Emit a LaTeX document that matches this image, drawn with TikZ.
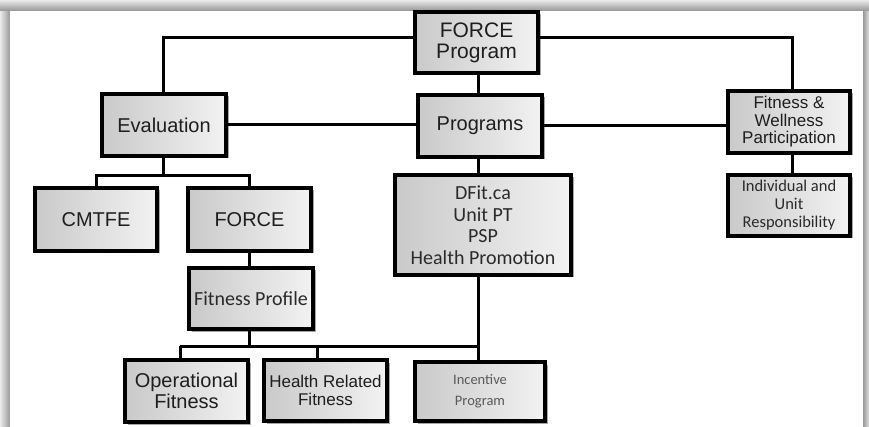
\documentclass[tikz,border=0pt]{standalone}
\usepackage{fontspec}
\setmainfont{Liberation Sans}
\newfontfamily\carl{Carlito}
\usetikzlibrary{shadows}
\definecolor{txt}{HTML}{1E1E1E}
\definecolor{ctxt}{HTML}{2A2A2A}
\tikzset{
  box/.style={draw=black, line width=3.2pt, left color=black!21, right color=black!5,
    inner sep=0pt, align=center, text=txt,
    drop shadow={shadow xshift=2.5pt, shadow yshift=-2.5pt, opacity=0.35, fill=black}},
  link/.style={draw=black, line width=3pt},
  arialA/.style={font=\fontsize{21}{21}\selectfont},
  arialB/.style={font=\fontsize{20}{21}\selectfont},
  arialC/.style={font=\fontsize{17}{17.5}\selectfont},
  calA/.style={font=\carl\fontsize{20}{21.5}\selectfont, text=ctxt},
  calB/.style={font=\carl\fontsize{16.5}{18}\selectfont, text=ctxt},
  calC/.style={font=\carl\fontsize{14.5}{21}\selectfont, text=black!65},
}
\begin{document}
\begin{tikzpicture}[x=1pt,y=-1pt]
\useasboundingbox (0,0) rectangle (869,427);
% frame
\fill[black!12] (0,0) rectangle (869,427);
\shade[left color=black!8, right color=black!40] (0,0) rectangle (10,427);
\shade[left color=black!40, right color=black!12] (863,0) rectangle (869,427);
\shade[top color=black!8, bottom color=black!42] (0,0) rectangle (869,11);
\fill[white] (10,11) rectangle (863,427);

% nodes
\node[box, arialA, minimum width=123pt, minimum height=61pt] (force) at (476.5,42.5) {FORCE\\Program};
\node[box, arialB, minimum width=124pt, minimum height=62pt] (eval) at (164,125) {Evaluation};
\node[box, arialB, minimum width=124pt, minimum height=62pt] (progs) at (480,126) {Programs};
\node[box, arialC, minimum width=122pt, minimum height=62pt] (fw) at (789,122) {Fitness \&\\Wellness\\Participation};
\node[box, calB, minimum width=122pt, minimum height=61pt] (iur) at (789,205.5) {Individual and\\Unit\\Responsibility};
\node[box, calA, minimum width=176pt, minimum height=100pt] (dfit) at (483,225) {DFit.ca\\Unit PT\\PSP\\Health Promotion};
\node[box, arialB, minimum width=122pt, minimum height=63pt] (cmtfe) at (96,219.5) {CMTFE};
\node[box, arialB, minimum width=123pt, minimum height=63pt] (forcee) at (249.5,219.5) {FORCE};
\node[box, calA, minimum width=124pt, minimum height=61pt] (fp) at (251,298.5) {Fitness Profile};
\node[box, arialB, minimum width=123pt, minimum height=62pt] (opf) at (186.5,391) {Operational\\Fitness};
\node[box, arialC, minimum width=123pt, minimum height=61pt] (hrf) at (325.5,390.5) {Health Related\\Fitness};
\node[box, calC, minimum width=130pt, minimum height=59pt] (inc) at (480,391.5) {Incentive\\Program};

% connectors
\coordinate (tl) at (163,38);
\coordinate (tr) at (792,38);
\coordinate (ej) at (163,176);
\coordinate (d1) at (180,346);
\coordinate (d2) at (317,346);
\coordinate (spine) at (478,346);

\draw[link] (force.west |- tl) -- (tl) -- (tl |- eval.north);
\draw[link] (force.east |- tr) -- (tr) -- (tr |- fw.north);
\draw[link] (force.south -| spine) -- (progs.north -| spine);
\draw[link] (eval.east) -- (eval.east -| progs.west);
\draw[link] (progs.east) -- (progs.east -| fw.west);
\draw[link] (fw.south -| tr) -- (iur.north -| tr);
\draw[link] (progs.south -| spine) -- (dfit.north -| spine);
\draw[link] (eval.south -| ej) -- (ej);
\draw[link] (cmtfe.north) |- (ej) -| (forcee.north);
\draw[link] (forcee.south) -- (fp.north -| forcee.south);
\draw[link] (fp.south -| forcee.south) -- (d1 -| forcee.south);
\draw[link] (d1) -- (spine);
\draw[link] (d1) -- (d1 |- opf.north);
\draw[link] (d2) -- (d2 |- hrf.north);
\draw[link] (dfit.south -| spine) -- (inc.north -| spine);
\end{tikzpicture}
\end{document}
